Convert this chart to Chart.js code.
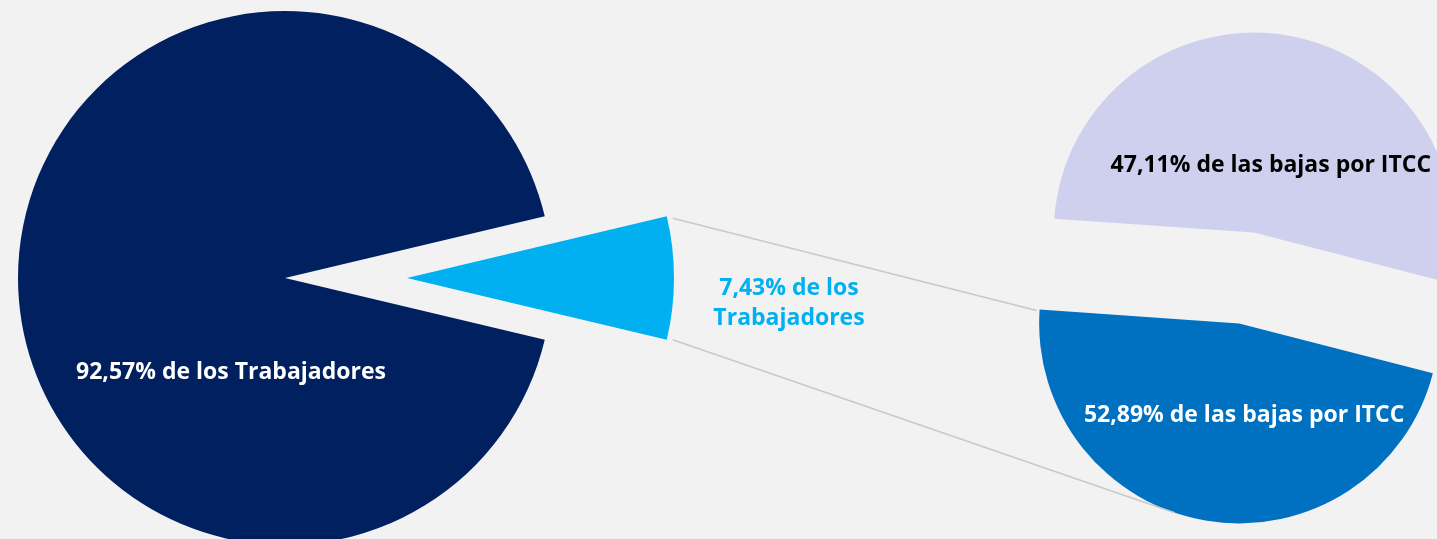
<!DOCTYPE html>
<html lang="es">
<head>
<meta charset="utf-8">
<title>Trabajadores y bajas por ITCC</title>
<script src="https://cdn.jsdelivr.net/npm/chart.js@4.4.1/dist/chart.umd.min.js"></script>
<style>
  html, body { margin: 0; padding: 0; background: #f2f2f2; overflow: hidden; }
  #wrap { position: relative; width: 1437px; height: 539px; }
  #wrap canvas { position: absolute; left: 0; top: 0; }
</style>
</head>
<body>
<div id="wrap">
  <canvas id="c0" width="1437" height="539"></canvas>
  <canvas id="c1" width="1437" height="539"></canvas>
  <canvas id="c2" width="1437" height="539"></canvas>
  <canvas id="c3" width="1437" height="539"></canvas>
</div>
<script>
'use strict';

// Data: first pie (trabajadores)
const trabajadoresCats = ['Resto de trabajadores', 'Trabajadores con bajas por ITCC'];
const trabajadoresValues = [92.57, 7.43];
const trabajadoresText = [['92,57% de los Trabajadores'], ['7,43% de los', 'Trabajadores']];

// Data: second pie (bajas), top slice first
const bajasCats = ['Bajas por ITCC (grupo 1)', 'Bajas por ITCC (grupo 2)'];
const bajasValues = [52.89, 47.11];
const bajasText = [['47,11% de las bajas por ITCC'], ['52,89% de las bajas por ITCC']];

// Layout / style
const W = 1437, H = 539;
const leftPie = { x: 285, y: 278, r: 267, explode: [0, 122], colors: ['#002060', '#00B0F0'] };
const rightPie = { x: 1246.5, y: 278, r: 200, explode: [46, 46], colors: ['#CFCFEE', '#0070C0'], rotation: 274 };
leftPie.rotation = 90 + trabajadoresValues[1] / (trabajadoresValues[0] + trabajadoresValues[1]) * 180;

const FONT = '700 23px "Open Sans"';

function midAngles(values, rotationDeg) {
  const total = values.reduce((a, b) => a + b, 0);
  let a = (rotationDeg - 90) * Math.PI / 180;
  return values.map(v => {
    const span = v / total * 2 * Math.PI;
    const m = a + span / 2;
    a += span;
    return m;
  });
}

function padFor(cx, cy) {
  return {
    left: cx > W / 2 ? 2 * cx - W : 0,
    right: cx > W / 2 ? 0 : W - 2 * cx,
    top: cy > H / 2 ? 2 * cy - H : 0,
    bottom: cy > H / 2 ? 0 : H - 2 * cy
  };
}

// one chart per slice, so each slice can be pulled out on its own
function makeSlice(canvasId, pie, cats, values, index, plugins) {
  const mid = midAngles(values, pie.rotation)[index];
  const cx = pie.x + pie.explode[index] * Math.cos(mid);
  const cy = pie.y + pie.explode[index] * Math.sin(mid);
  const colors = pie.colors.map((c, i) => i === index ? c : 'rgba(0,0,0,0)');
  return new Chart(document.getElementById(canvasId), {
    type: 'pie',
    data: {
      labels: cats,
      datasets: [{
        data: values,
        backgroundColor: colors,
        borderWidth: 0,
        radius: pie.r,
        rotation: pie.rotation,
        clip: false
      }]
    },
    options: {
      responsive: false,
      animation: false,
      events: [],
      layout: { padding: padFor(cx, cy) },
      plugins: { legend: { display: false }, tooltip: { enabled: false } }
    },
    plugins: plugins || []
  });
}

function corner(el, angle) {
  return { x: el.x + el.outerRadius * Math.cos(angle), y: el.y + el.outerRadius * Math.sin(angle) };
}

function drawLines(ctx, lines) {
  ctx.save();
  ctx.strokeStyle = '#c9c9c9';
  ctx.lineWidth = 1.5;
  lines.forEach(l => {
    ctx.beginPath();
    ctx.moveTo(l[0].x, l[0].y);
    ctx.lineTo(l[1].x, l[1].y);
    ctx.stroke();
  });
  ctx.restore();
}

function drawText(ctx, lines, x, y, color, lineGap) {
  ctx.save();
  ctx.font = FONT;
  ctx.fillStyle = color;
  ctx.textAlign = 'center';
  ctx.textBaseline = 'middle';
  const y0 = y - (lines.length - 1) * lineGap / 2;
  lines.forEach((t, i) => ctx.fillText(t, x, y0 + i * lineGap));
  ctx.restore();
}

const charts = [];

const overlay = {
  id: 'overlay',
  afterDraw(chart) {
    const ctx = chart.ctx;
    const big = charts[0].getDatasetMeta(0).data[0];
    const small = charts[1].getDatasetMeta(0).data[1];
    const top = charts[2].getDatasetMeta(0).data[0];
    const bottom = chart.getDatasetMeta(0).data[1];

    // series lines from the pulled-out slice to the second pie
    const p1 = corner(small, small.startAngle);
    const p2 = corner(small, small.endAngle);
    const q1 = corner(bottom, bottom.endAngle);
    const dx = p2.x - bottom.x, dy = p2.y - bottom.y;
    const t = Math.atan2(dy, dx) - Math.acos(bottom.outerRadius / Math.hypot(dx, dy));
    const q2 = corner(bottom, t);
    drawLines(ctx, [
      [{ x: p1.x + 6, y: p1.y + 2 }, { x: q1.x - 3, y: q1.y + 1 }],
      [{ x: p2.x + 6, y: p2.y }, q2]
    ]);

    drawText(ctx, trabajadoresText[0], big.x - 54, big.y + 94, '#ffffff', 30);
    drawText(ctx, trabajadoresText[1], small.x + small.outerRadius + 115, small.y + 25, '#00B0F0', 30);
    drawText(ctx, bajasText[0], top.x + 17, top.y - 67, '#000000', 30);
    drawText(ctx, bajasText[1], bottom.x + 5, bottom.y + 92, '#ffffff', 30);
  }
};

charts.push(makeSlice('c0', leftPie, trabajadoresCats, trabajadoresValues, 0));
charts.push(makeSlice('c1', leftPie, trabajadoresCats, trabajadoresValues, 1));
charts.push(makeSlice('c2', rightPie, bajasCats, bajasValues, 0));
charts.push(makeSlice('c3', rightPie, bajasCats, bajasValues, 1, [overlay]));
</script>
</body>
</html>
